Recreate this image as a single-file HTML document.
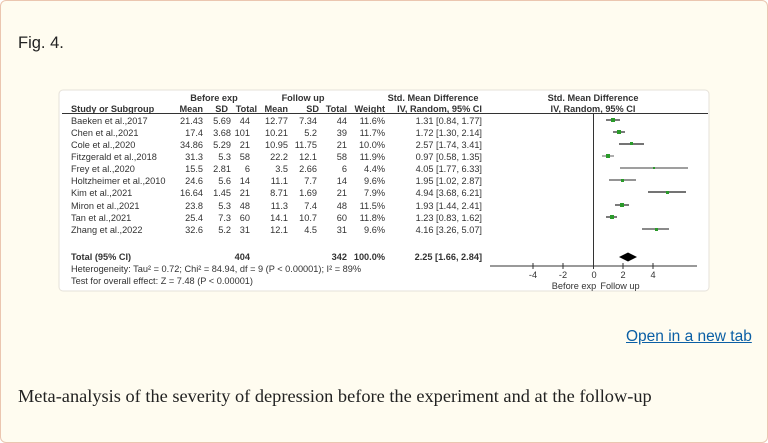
<!DOCTYPE html>
<html><head><meta charset="utf-8"><style>
html,body{margin:0;padding:0;background:#fff;}
body{width:768px;height:443px;position:relative;overflow:hidden;}
.card{position:absolute;left:0;top:0;width:766px;height:441px;background:#fffcf0;border:1px solid #ebc6b0;border-radius:6px;}
.fig{position:absolute;left:18px;top:34px;font:16.5px "Liberation Sans",sans-serif;color:#222;}
.link{position:absolute;left:626px;top:328px;font:15.5px "Liberation Sans",sans-serif;color:#0b5fa5;text-decoration:underline;}
.cap{position:absolute;left:18px;top:386px;font:18.35px "Liberation Serif",serif;color:#222;}
svg{position:absolute;left:0;top:0;}
</style></head><body>
<div class="card"></div>
<div class="fig">Fig. 4.</div>
<div class="link">Open in a new tab</div>
<div class="cap">Meta-analysis of the severity of depression before the experiment and at the follow-up</div>
<svg width="768" height="443" font-family="Liberation Sans, sans-serif" font-size="9.2" fill="#333">
<rect x="59" y="90" width="650" height="201" rx="4" fill="#fff" stroke="#e6e2da"/>
<g font-weight="bold">
<text x="214" y="101" text-anchor="middle">Before exp</text>
<text x="303" y="101" text-anchor="middle">Follow up</text>
<text x="433" y="101" text-anchor="middle">Std. Mean Difference</text>
<text x="593" y="101" text-anchor="middle">Std. Mean Difference</text>
<text x="71" y="112">Study or Subgroup</text>
<text x="203" y="112" text-anchor="end">Mean</text>
<text x="228" y="112" text-anchor="end">SD</text>
<text x="257" y="112" text-anchor="end">Total</text>
<text x="288" y="112" text-anchor="end">Mean</text>
<text x="319" y="112" text-anchor="end">SD</text>
<text x="347" y="112" text-anchor="end">Total</text>
<text x="385" y="112" text-anchor="end">Weight</text>
<text x="482" y="112" text-anchor="end">IV, Random, 95% CI</text>
<text x="593" y="112" text-anchor="middle">IV, Random, 95% CI</text>
</g>
<line x1="62" y1="113.5" x2="708" y2="113.5" stroke="#333" stroke-width="1"/>
<g id="rows">
<text x="71" y="124">Baeken et al.,2017</text><text x="203" y="124" text-anchor="end">21.43</text><text x="231" y="124" text-anchor="end">5.69</text><text x="250" y="124" text-anchor="end">44</text><text x="288" y="124" text-anchor="end">12.77</text><text x="317" y="124" text-anchor="end">7.34</text><text x="347" y="124" text-anchor="end">44</text><text x="385" y="124" text-anchor="end">11.6%</text><text x="482" y="124" text-anchor="end">1.31 [0.84, 1.77]</text>
<text x="71" y="136">Chen et al.,2021</text><text x="203" y="136" text-anchor="end">17.4</text><text x="231" y="136" text-anchor="end">3.68</text><text x="250" y="136" text-anchor="end">101</text><text x="288" y="136" text-anchor="end">10.21</text><text x="317" y="136" text-anchor="end">5.2</text><text x="347" y="136" text-anchor="end">39</text><text x="385" y="136" text-anchor="end">11.7%</text><text x="482" y="136" text-anchor="end">1.72 [1.30, 2.14]</text>
<text x="71" y="148">Cole et al.,2020</text><text x="203" y="148" text-anchor="end">34.86</text><text x="231" y="148" text-anchor="end">5.29</text><text x="250" y="148" text-anchor="end">21</text><text x="288" y="148" text-anchor="end">10.95</text><text x="317" y="148" text-anchor="end">11.75</text><text x="347" y="148" text-anchor="end">21</text><text x="385" y="148" text-anchor="end">10.0%</text><text x="482" y="148" text-anchor="end">2.57 [1.74, 3.41]</text>
<text x="71" y="160">Fitzgerald et al.,2018</text><text x="203" y="160" text-anchor="end">31.3</text><text x="231" y="160" text-anchor="end">5.3</text><text x="250" y="160" text-anchor="end">58</text><text x="288" y="160" text-anchor="end">22.2</text><text x="317" y="160" text-anchor="end">12.1</text><text x="347" y="160" text-anchor="end">58</text><text x="385" y="160" text-anchor="end">11.9%</text><text x="482" y="160" text-anchor="end">0.97 [0.58, 1.35]</text>
<text x="71" y="172">Frey et al.,2020</text><text x="203" y="172" text-anchor="end">15.5</text><text x="231" y="172" text-anchor="end">2.81</text><text x="250" y="172" text-anchor="end">6</text><text x="288" y="172" text-anchor="end">3.5</text><text x="317" y="172" text-anchor="end">2.66</text><text x="347" y="172" text-anchor="end">6</text><text x="385" y="172" text-anchor="end">4.4%</text><text x="482" y="172" text-anchor="end">4.05 [1.77, 6.33]</text>
<text x="71" y="184">Holtzheimer et al.,2010</text><text x="203" y="184" text-anchor="end">24.6</text><text x="231" y="184" text-anchor="end">5.6</text><text x="250" y="184" text-anchor="end">14</text><text x="288" y="184" text-anchor="end">11.1</text><text x="317" y="184" text-anchor="end">7.7</text><text x="347" y="184" text-anchor="end">14</text><text x="385" y="184" text-anchor="end">9.6%</text><text x="482" y="184" text-anchor="end">1.95 [1.02, 2.87]</text>
<text x="71" y="196">Kim et al.,2021</text><text x="203" y="196" text-anchor="end">16.64</text><text x="231" y="196" text-anchor="end">1.45</text><text x="250" y="196" text-anchor="end">21</text><text x="288" y="196" text-anchor="end">8.71</text><text x="317" y="196" text-anchor="end">1.69</text><text x="347" y="196" text-anchor="end">21</text><text x="385" y="196" text-anchor="end">7.9%</text><text x="482" y="196" text-anchor="end">4.94 [3.68, 6.21]</text>
<text x="71" y="209">Miron et al.,2021</text><text x="203" y="209" text-anchor="end">23.8</text><text x="231" y="209" text-anchor="end">5.3</text><text x="250" y="209" text-anchor="end">48</text><text x="288" y="209" text-anchor="end">11.3</text><text x="317" y="209" text-anchor="end">7.4</text><text x="347" y="209" text-anchor="end">48</text><text x="385" y="209" text-anchor="end">11.5%</text><text x="482" y="209" text-anchor="end">1.93 [1.44, 2.41]</text>
<text x="71" y="221">Tan et al.,2021</text><text x="203" y="221" text-anchor="end">25.4</text><text x="231" y="221" text-anchor="end">7.3</text><text x="250" y="221" text-anchor="end">60</text><text x="288" y="221" text-anchor="end">14.1</text><text x="317" y="221" text-anchor="end">10.7</text><text x="347" y="221" text-anchor="end">60</text><text x="385" y="221" text-anchor="end">11.8%</text><text x="482" y="221" text-anchor="end">1.23 [0.83, 1.62]</text>
<text x="71" y="233">Zhang et al.,2022</text><text x="203" y="233" text-anchor="end">32.6</text><text x="231" y="233" text-anchor="end">5.2</text><text x="250" y="233" text-anchor="end">31</text><text x="288" y="233" text-anchor="end">12.1</text><text x="317" y="233" text-anchor="end">4.5</text><text x="347" y="233" text-anchor="end">31</text><text x="385" y="233" text-anchor="end">9.6%</text><text x="482" y="233" text-anchor="end">4.16 [3.26, 5.07]</text>
</g>
<g font-weight="bold">
<text x="71" y="260">Total (95% CI)</text>
<text x="250" y="260" text-anchor="end">404</text>
<text x="347" y="260" text-anchor="end">342</text>
<text x="385" y="260" text-anchor="end">100.0%</text>
<text x="482" y="260" text-anchor="end">2.25 [1.66, 2.84]</text>
</g>
<text x="71" y="272">Heterogeneity: Tau² = 0.72; Chi² = 84.94, df = 9 (P &lt; 0.00001); I² = 89%</text>
<text x="71" y="284">Test for overall effect: Z = 7.48 (P &lt; 0.00001)</text>
<line x1="593.5" y1="113" x2="593.5" y2="266" stroke="#333"/>
<line x1="490" y1="266" x2="697" y2="266" stroke="#333"/>
<g stroke="#333">
<line x1="533" y1="263" x2="533" y2="269"/><line x1="563" y1="263" x2="563" y2="269"/><line x1="593.5" y1="263" x2="593.5" y2="269"/><line x1="623" y1="263" x2="623" y2="269"/><line x1="653" y1="263" x2="653" y2="269"/>
</g>
<g text-anchor="middle">
<text x="533" y="278">-4</text><text x="563" y="278">-2</text><text x="594" y="278">0</text><text x="623" y="278">2</text><text x="653" y="278">4</text>
</g>
<text x="574" y="289" text-anchor="middle">Before exp</text>
<text x="620" y="289" text-anchor="middle">Follow up</text>
<g stroke="#222" stroke-width="1.2">
<line x1="606" y1="120" x2="620" y2="120"/>
<line x1="613" y1="132" x2="625" y2="132"/>
<line x1="619" y1="144" x2="644" y2="144"/>
<line x1="602" y1="156" x2="614" y2="156" stroke="#777"/>
<line x1="620" y1="168" x2="688" y2="168" stroke="#666"/>
<line x1="609" y1="180" x2="636" y2="180" stroke="#555"/>
<line x1="648" y1="192" x2="686" y2="192"/>
<line x1="615" y1="205" x2="629" y2="205"/>
<line x1="606" y1="217" x2="617" y2="217"/>
<line x1="642" y1="229" x2="669" y2="229" stroke="#444"/>
</g>
<g fill="#2a9a2a">
<rect x="611" y="118" width="4" height="4"/>
<rect x="617" y="130" width="4" height="4"/>
<rect x="630" y="142" width="3" height="3"/>
<rect x="606" y="154" width="4" height="4"/>
<rect x="653" y="167" width="2" height="2"/>
<rect x="621" y="179" width="3" height="3"/>
<rect x="666" y="191" width="3" height="3"/>
<rect x="620" y="203" width="4" height="4"/>
<rect x="610" y="215" width="4" height="4"/>
<rect x="655" y="228" width="3" height="3"/>
</g>
<polygon points="619,257 628,252.5 637,257 628,261.5" fill="#000"/>
</svg>
</body></html>
